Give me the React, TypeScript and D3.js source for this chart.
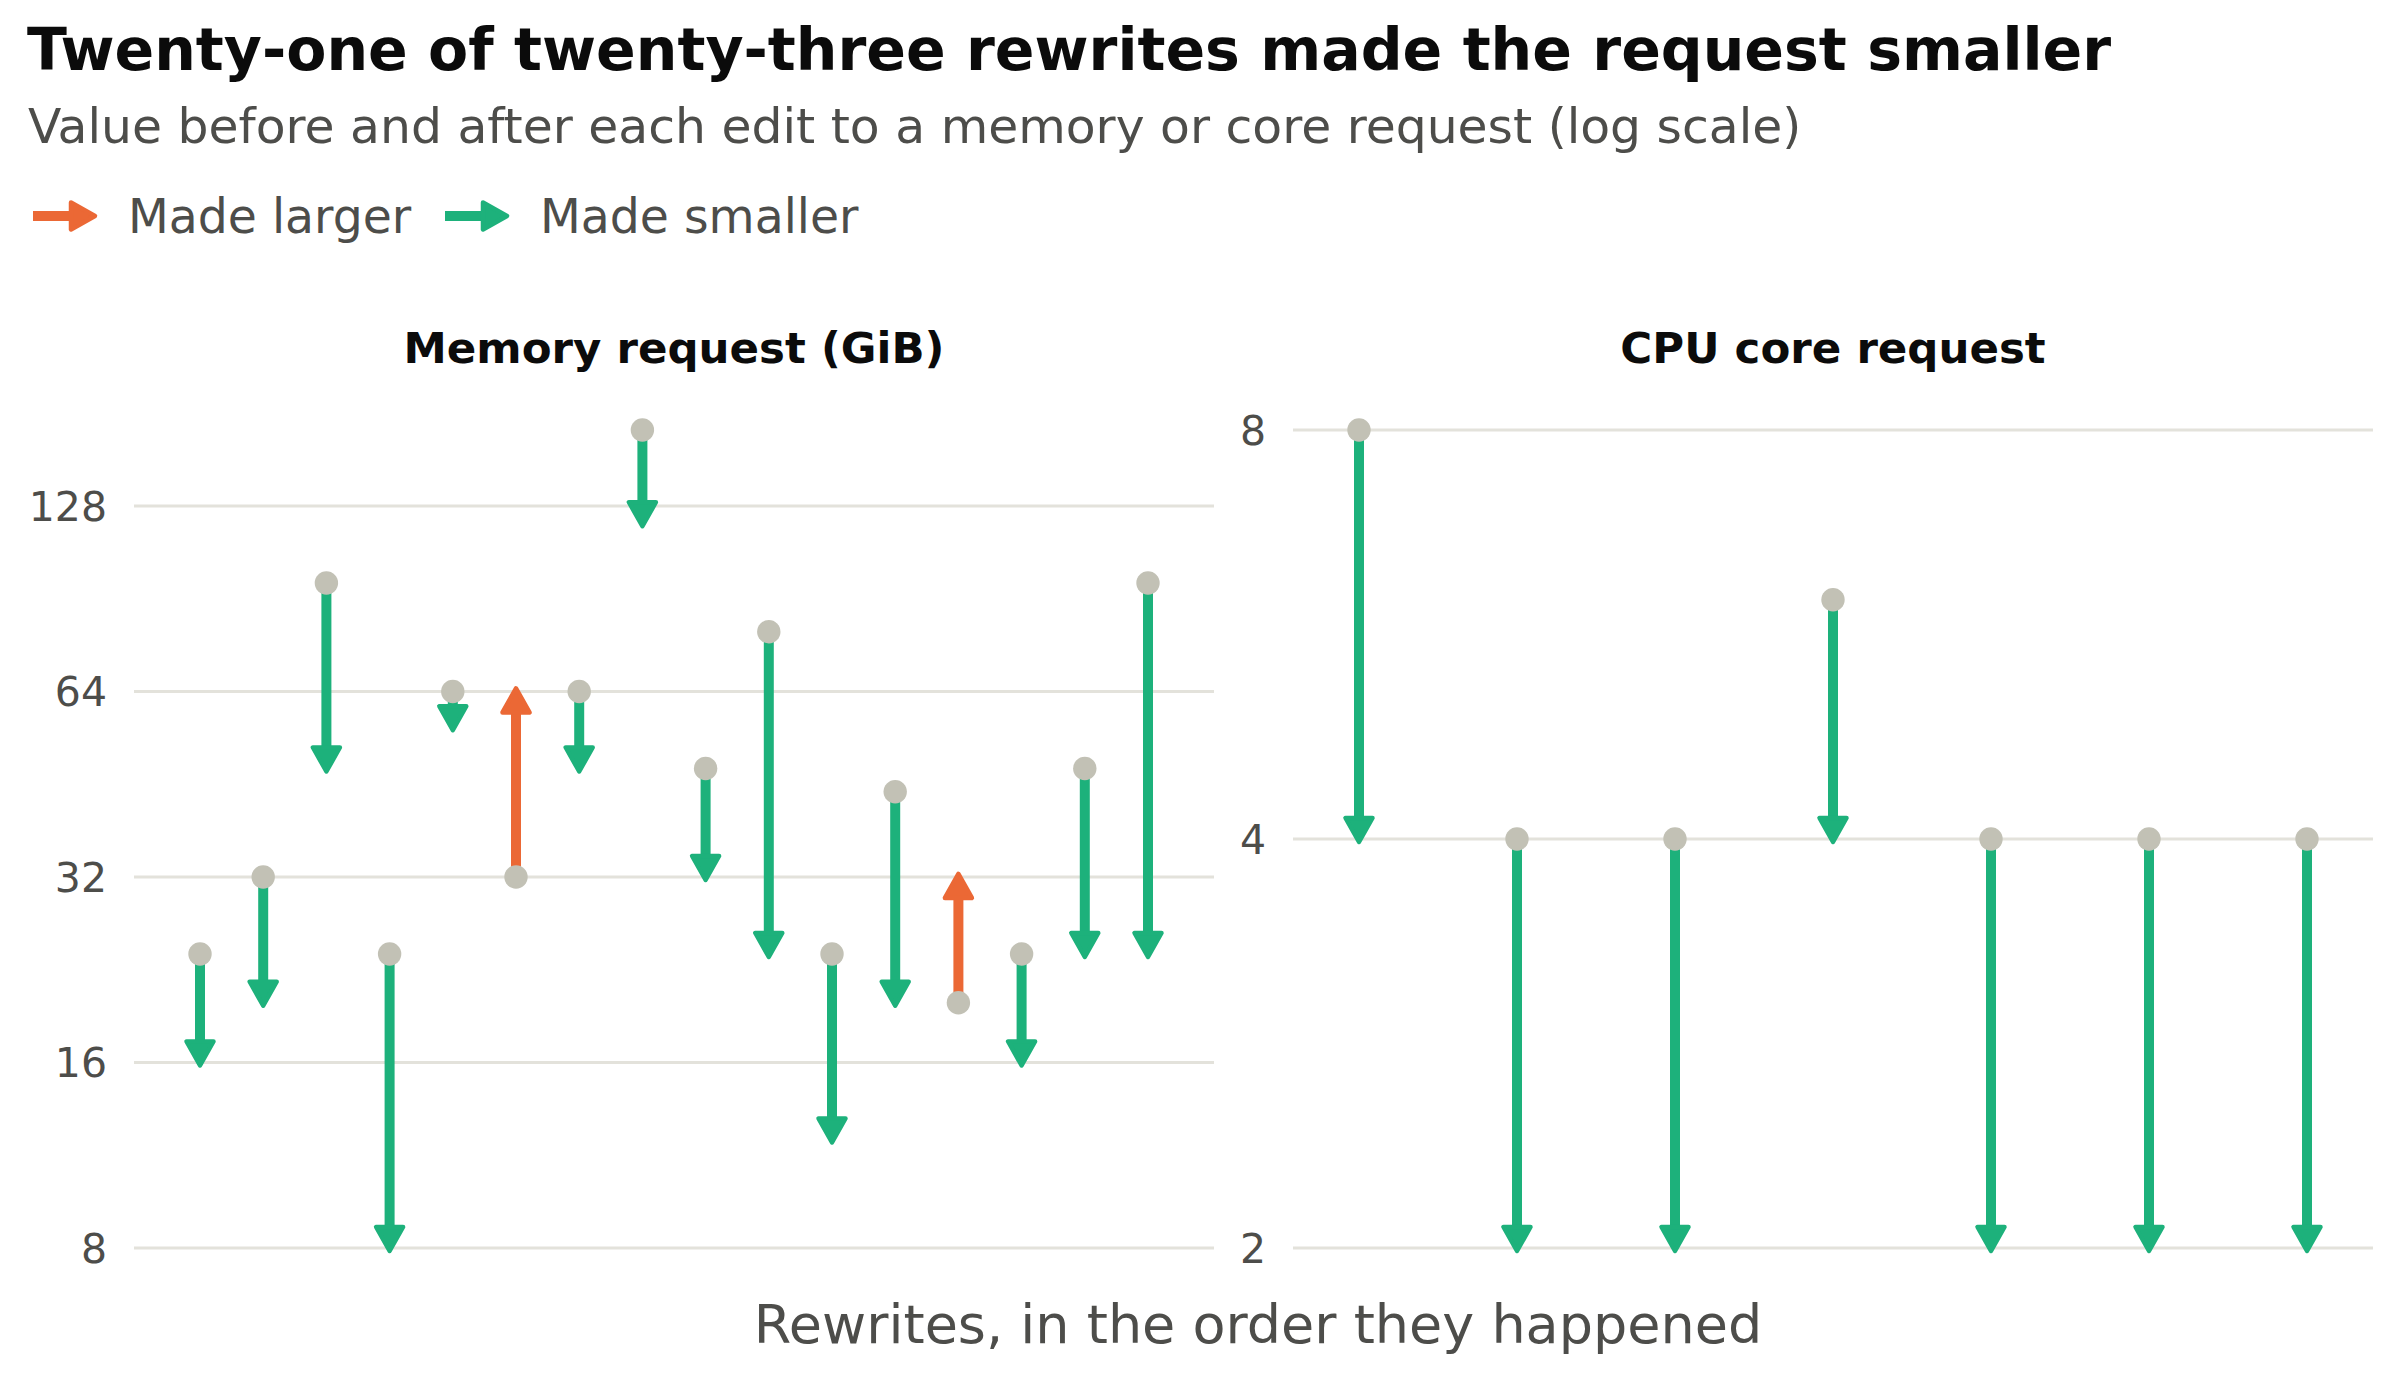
import React from "react";
import * as d3 from "d3";

// ---- data ----
const memFrom = [24, 32, 96, 24, 64, 32, 64, 170, 48, 80, 24, 44, 20, 24, 48, 96];
const memTo = [16, 20, 48, 8, 56, 64, 48, 120, 32, 24, 12, 20, 32, 16, 24, 24];
const cpuFrom = [8, 4, 4, 6, 4, 4, 4];
const cpuTo = [4, 2, 2, 4, 2, 2, 2];
const memTicks = [8, 16, 32, 64, 128];
const cpuTicks = [2, 4, 8];

const title = "Twenty-one of twenty-three rewrites made the request smaller";
const subtitle = "Value before and after each edit to a memory or core request (log scale)";
const legendLabels = ["Made larger", "Made smaller"];
const panelTitles = ["Memory request (GiB)", "CPU core request"];
const xLabel = "Rewrites, in the order they happened";

// ---- style ----
const W = 2400;
const H = 1380;
const FONT = "DejaVu Sans";
const ORANGE = "#EB6835";
const GREEN = "#1DB17B";
const DOT = "#C2C1B5";
const GRID = "#E3E2DB";
const TEXT = "#4D4D4A";
const TITLE = "#0B0B0B";

const plotTop = 430;
const plotBottom = 1248;
const pad = 66;

function Arrow({ x1, y1, x2, y2, color }: { x1: number; y1: number; x2: number; y2: number; color: string }) {
  const dx = x2 - x1;
  const dy = y2 - y1;
  const len = Math.sqrt(dx * dx + dy * dy) || 1;
  const ux = dx / len;
  const uy = dy / len;
  const px = -uy;
  const py = ux;
  const tipX = x2 + ux * 3;
  const tipY = y2 + uy * 3;
  const headLen = 24;
  const halfW = 13.5;
  const bx = tipX - ux * headLen;
  const by = tipY - uy * headLen;
  const pts = [
    [tipX, tipY],
    [bx + px * halfW, by + py * halfW],
    [bx - px * halfW, by - py * halfW],
  ];
  return (
    <g>
      <line x1={x1} y1={y1} x2={bx + ux * 2} y2={by + uy * 2} stroke={color} strokeWidth={10} />
      <polygon
        points={pts.map((p) => p.join(",")).join(" ")}
        fill={color}
        stroke={color}
        strokeWidth={4.5}
        strokeLinejoin="round"
      />
    </g>
  );
}

function Panel({
  left,
  right,
  from,
  to,
  ticks,
  label,
}: {
  left: number;
  right: number;
  from: number[];
  to: number[];
  ticks: number[];
  label: string;
}) {
  const all = from.concat(to);
  const ext = d3.extent(all) as [number, number];
  const y = d3.scaleLog().base(2).domain(ext).range([plotBottom, plotTop]);
  const x = d3.scaleLinear().domain([0, from.length - 1]).range([left + pad, right - pad]);
  return (
    <g>
      <text
        x={(left + right) / 2}
        y={363}
        textAnchor="middle"
        fontFamily={FONT}
        fontWeight="bold"
        fontSize={43.5}
        fill={TITLE}
      >
        {label}
      </text>
      {ticks.map((t) => (
        <g key={t}>
          <line x1={left} x2={right} y1={y(t)} y2={y(t)} stroke={GRID} strokeWidth={3} />
          <text
            x={left - 27}
            y={y(t)}
            dy="0.36em"
            textAnchor="end"
            fontFamily={FONT}
            fontSize={41}
            fill={TEXT}
          >
            {t}
          </text>
        </g>
      ))}
      {from.map((f, i) => (
        <Arrow
          key={"a" + i}
          x1={x(i)}
          y1={y(f)}
          x2={x(i)}
          y2={y(to[i])}
          color={to[i] > f ? ORANGE : GREEN}
        />
      ))}
      {from.map((f, i) => (
        <circle key={"d" + i} cx={x(i)} cy={y(f)} r={11.7} fill={DOT} />
      ))}
    </g>
  );
}

export default function App() {
  return (
    <svg
      width={W}
      height={H}
      viewBox={`0 0 ${W} ${H}`}
      style={{ position: "absolute", left: 0, top: 0, background: "#fff" }}
    >
      <rect width={W} height={H} fill="#fff" />
      <text x={27} y={70} fontFamily={FONT} fontWeight="bold" fontSize={58.5} fill={TITLE}>
        {title}
      </text>
      <text x={28} y={143} fontFamily={FONT} fontSize={48.8} fill={TEXT}>
        {subtitle}
      </text>
      <Arrow x1={33} y1={216} x2={92} y2={216} color={ORANGE} />
      <text x={128} y={233} fontFamily={FONT} fontSize={47.3} fill={TEXT}>
        {legendLabels[0]}
      </text>
      <Arrow x1={445} y1={216} x2={504} y2={216} color={GREEN} />
      <text x={540} y={233} fontFamily={FONT} fontSize={47.3} fill={TEXT}>
        {legendLabels[1]}
      </text>
      <Panel left={134} right={1214} from={memFrom} to={memTo} ticks={memTicks} label={panelTitles[0]} />
      <Panel left={1293} right={2373} from={cpuFrom} to={cpuTo} ticks={cpuTicks} label={panelTitles[1]} />
      <text x={1258} y={1343} textAnchor="middle" fontFamily={FONT} fontSize={54} fill={TEXT}>
        {xLabel}
      </text>
    </svg>
  );
}
